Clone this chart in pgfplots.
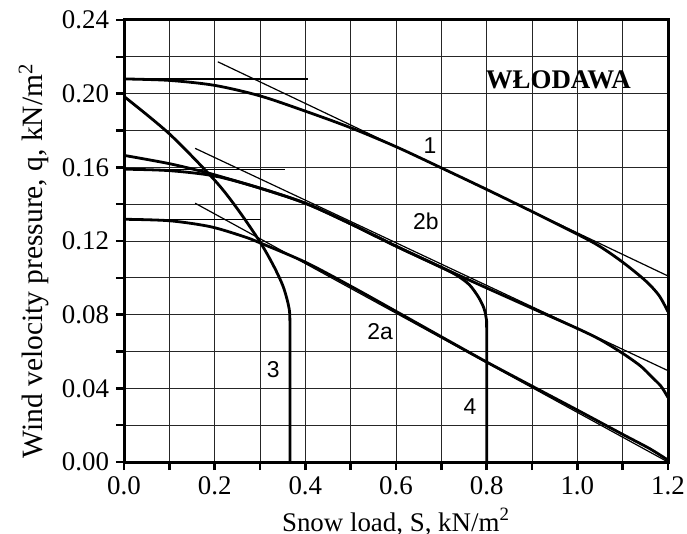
\documentclass[border=0pt]{standalone}
\usepackage{fontspec}
\setmainfont{Liberation Serif}
\newfontfamily\arialfont{Liberation Sans}
\usepackage{pgfplots}
\pgfplotsset{compat=1.18}

\begin{document}
\begin{tikzpicture}
\begin{axis}[
    scale only axis,
    width=272bp, height=221bp,
    xmin=0, xmax=1.2, ymin=0, ymax=0.24,
    xtick={0,0.2,0.4,0.6,0.8,1.0,1.2},
    minor xtick={0.1,0.3,0.5,0.7,0.9,1.1},
    ytick={0,0.04,0.08,0.12,0.16,0.2,0.24},
    minor ytick={0.02,0.06,0.1,0.14,0.18,0.22},
    grid=both,
    major grid style={black!85, line width=0.45bp},
    minor grid style={black!85, line width=0.45bp},
    axis line style={line width=1.5bp},
    tick align=outside, tick pos=left,
    major tick length=4bp, minor tick length=4bp,
    every tick/.append style={black, line width=1.2bp},
    /pgf/number format/assume math mode=true,
    xticklabel style={/pgf/number format/.cd, fixed, fixed zerofill, precision=1},
    yticklabel style={/pgf/number format/.cd, fixed, fixed zerofill, precision=2},
    tick label style={font=\fontsize{13.5}{15}\selectfont},
    xlabel={Snow load, S, kN/m\textsuperscript{2}},
    ylabel={Wind velocity pressure, q, kN/m\textsuperscript{2}},
    every axis x label/.style={at={(rel axis cs:0.5,0)}, anchor=base, yshift=-34.5bp, font=\fontsize{13.5}{15}\selectfont},
    every axis y label/.style={at={(rel axis cs:0,0.455)}, xshift=-45bp, rotate=90, anchor=center, font=\fontsize{14.8}{16}\selectfont},
]
% thin construction lines
\addplot[black, line width=0.6bp] coordinates {(0,0.208) (0.406,0.208)};
\addplot[black, line width=0.6bp] coordinates {(0,0.159) (0.355,0.159)};
\addplot[black, line width=0.6bp] coordinates {(0,0.1318) (0.303,0.1318)};
\addplot[black, line width=0.6bp] coordinates {(0.207,0.2173) (1.2,0.101)};
\addplot[black, line width=0.6bp] coordinates {(0.157,0.1703) (1.2,0.0496)};
\addplot[black, line width=0.6bp] coordinates {(0.157,0.1405) (1.2,0.0)};

% curve 1
\addplot[black, line width=1.4bp, smooth, tension=0.5] coordinates {
  (0,0.208) (0.1,0.2072) (0.2,0.2045) (0.3,0.1988) (0.4,0.1905) (0.5,0.1815)
  (0.6,0.1712) (0.7,0.1597) (0.8,0.148) (0.9,0.136) (1.0,0.1237) (1.05,0.117)
  (1.1,0.1085) (1.15,0.0985) (1.18,0.0905) (1.2,0.0816)};
% curve 2b
\addplot[black, line width=1.4bp, smooth, tension=0.5] coordinates {
  (0,0.159) (0.1,0.1582) (0.2,0.1553) (0.3,0.1487) (0.4,0.1405) (0.5,0.1293)
  (0.6,0.1172) (0.7,0.1057) (0.8,0.0945) (0.9,0.0835) (1.0,0.0725) (1.05,0.0665)
  (1.1,0.059) (1.14,0.052) (1.165,0.046) (1.185,0.041) (1.2,0.035)};
% curve 4
\addplot[black, line width=1.4bp, smooth, tension=0.5] coordinates {
  (0,0.1665) (0.1,0.162) (0.175,0.1576) (0.22,0.1545) (0.3,0.1487) (0.4,0.1405)
  (0.5,0.1293) (0.6,0.1172) (0.7,0.1057) (0.735,0.1012) (0.762,0.0962) (0.782,0.0895)
  (0.794,0.0835) (0.799,0.078) (0.8,0.07) (0.8,0)};
% curve 2a
\addplot[black, line width=1.4bp, smooth, tension=0.5] coordinates {
  (0,0.1318) (0.1,0.131) (0.19,0.1278) (0.263,0.1225) (0.3,0.119) (0.4,0.1085)
  (0.5,0.0955) (0.6,0.0818) (0.7,0.068) (0.8,0.0543) (0.9,0.0412) (1.0,0.0282)
  (1.1,0.015) (1.16,0.0072) (1.2,0.001)};
% curve 3
\addplot[black, line width=1.4bp, smooth, tension=0.5] coordinates {
  (0,0.1985) (0.1,0.1782) (0.2,0.153) (0.25,0.1375) (0.3,0.1195) (0.33,0.1065)
  (0.35,0.096) (0.36,0.088) (0.365,0.082) (0.366,0.076) (0.366,0.066) (0.366,0)};

\node[font=\arialfont\fontsize{11.5}{12}\selectfont] at (axis cs:0.675,0.172) {1};
\node[font=\arialfont\fontsize{11.5}{12}\selectfont] at (axis cs:0.666,0.1305) {2b};
\node[font=\arialfont\fontsize{11.5}{12}\selectfont] at (axis cs:0.565,0.0708) {2a};
\node[font=\arialfont\fontsize{11.5}{12}\selectfont] at (axis cs:0.329,0.050) {3};
\node[font=\arialfont\fontsize{11.5}{12}\selectfont] at (axis cs:0.763,0.030) {4};
\node[font=\bfseries\fontsize{13.5}{15}\selectfont] at (axis cs:0.958,0.2078) {WŁODAWA};

\coordinate (ll) at (rel axis cs:0,0);
\coordinate (ur) at (rel axis cs:1,1);
\end{axis}
\pgfresetboundingbox
\path ([xshift=-62bp,yshift=-36bp]ll) rectangle ([xshift=9.5bp,yshift=10bp]ur);
\end{tikzpicture}
\end{document}
